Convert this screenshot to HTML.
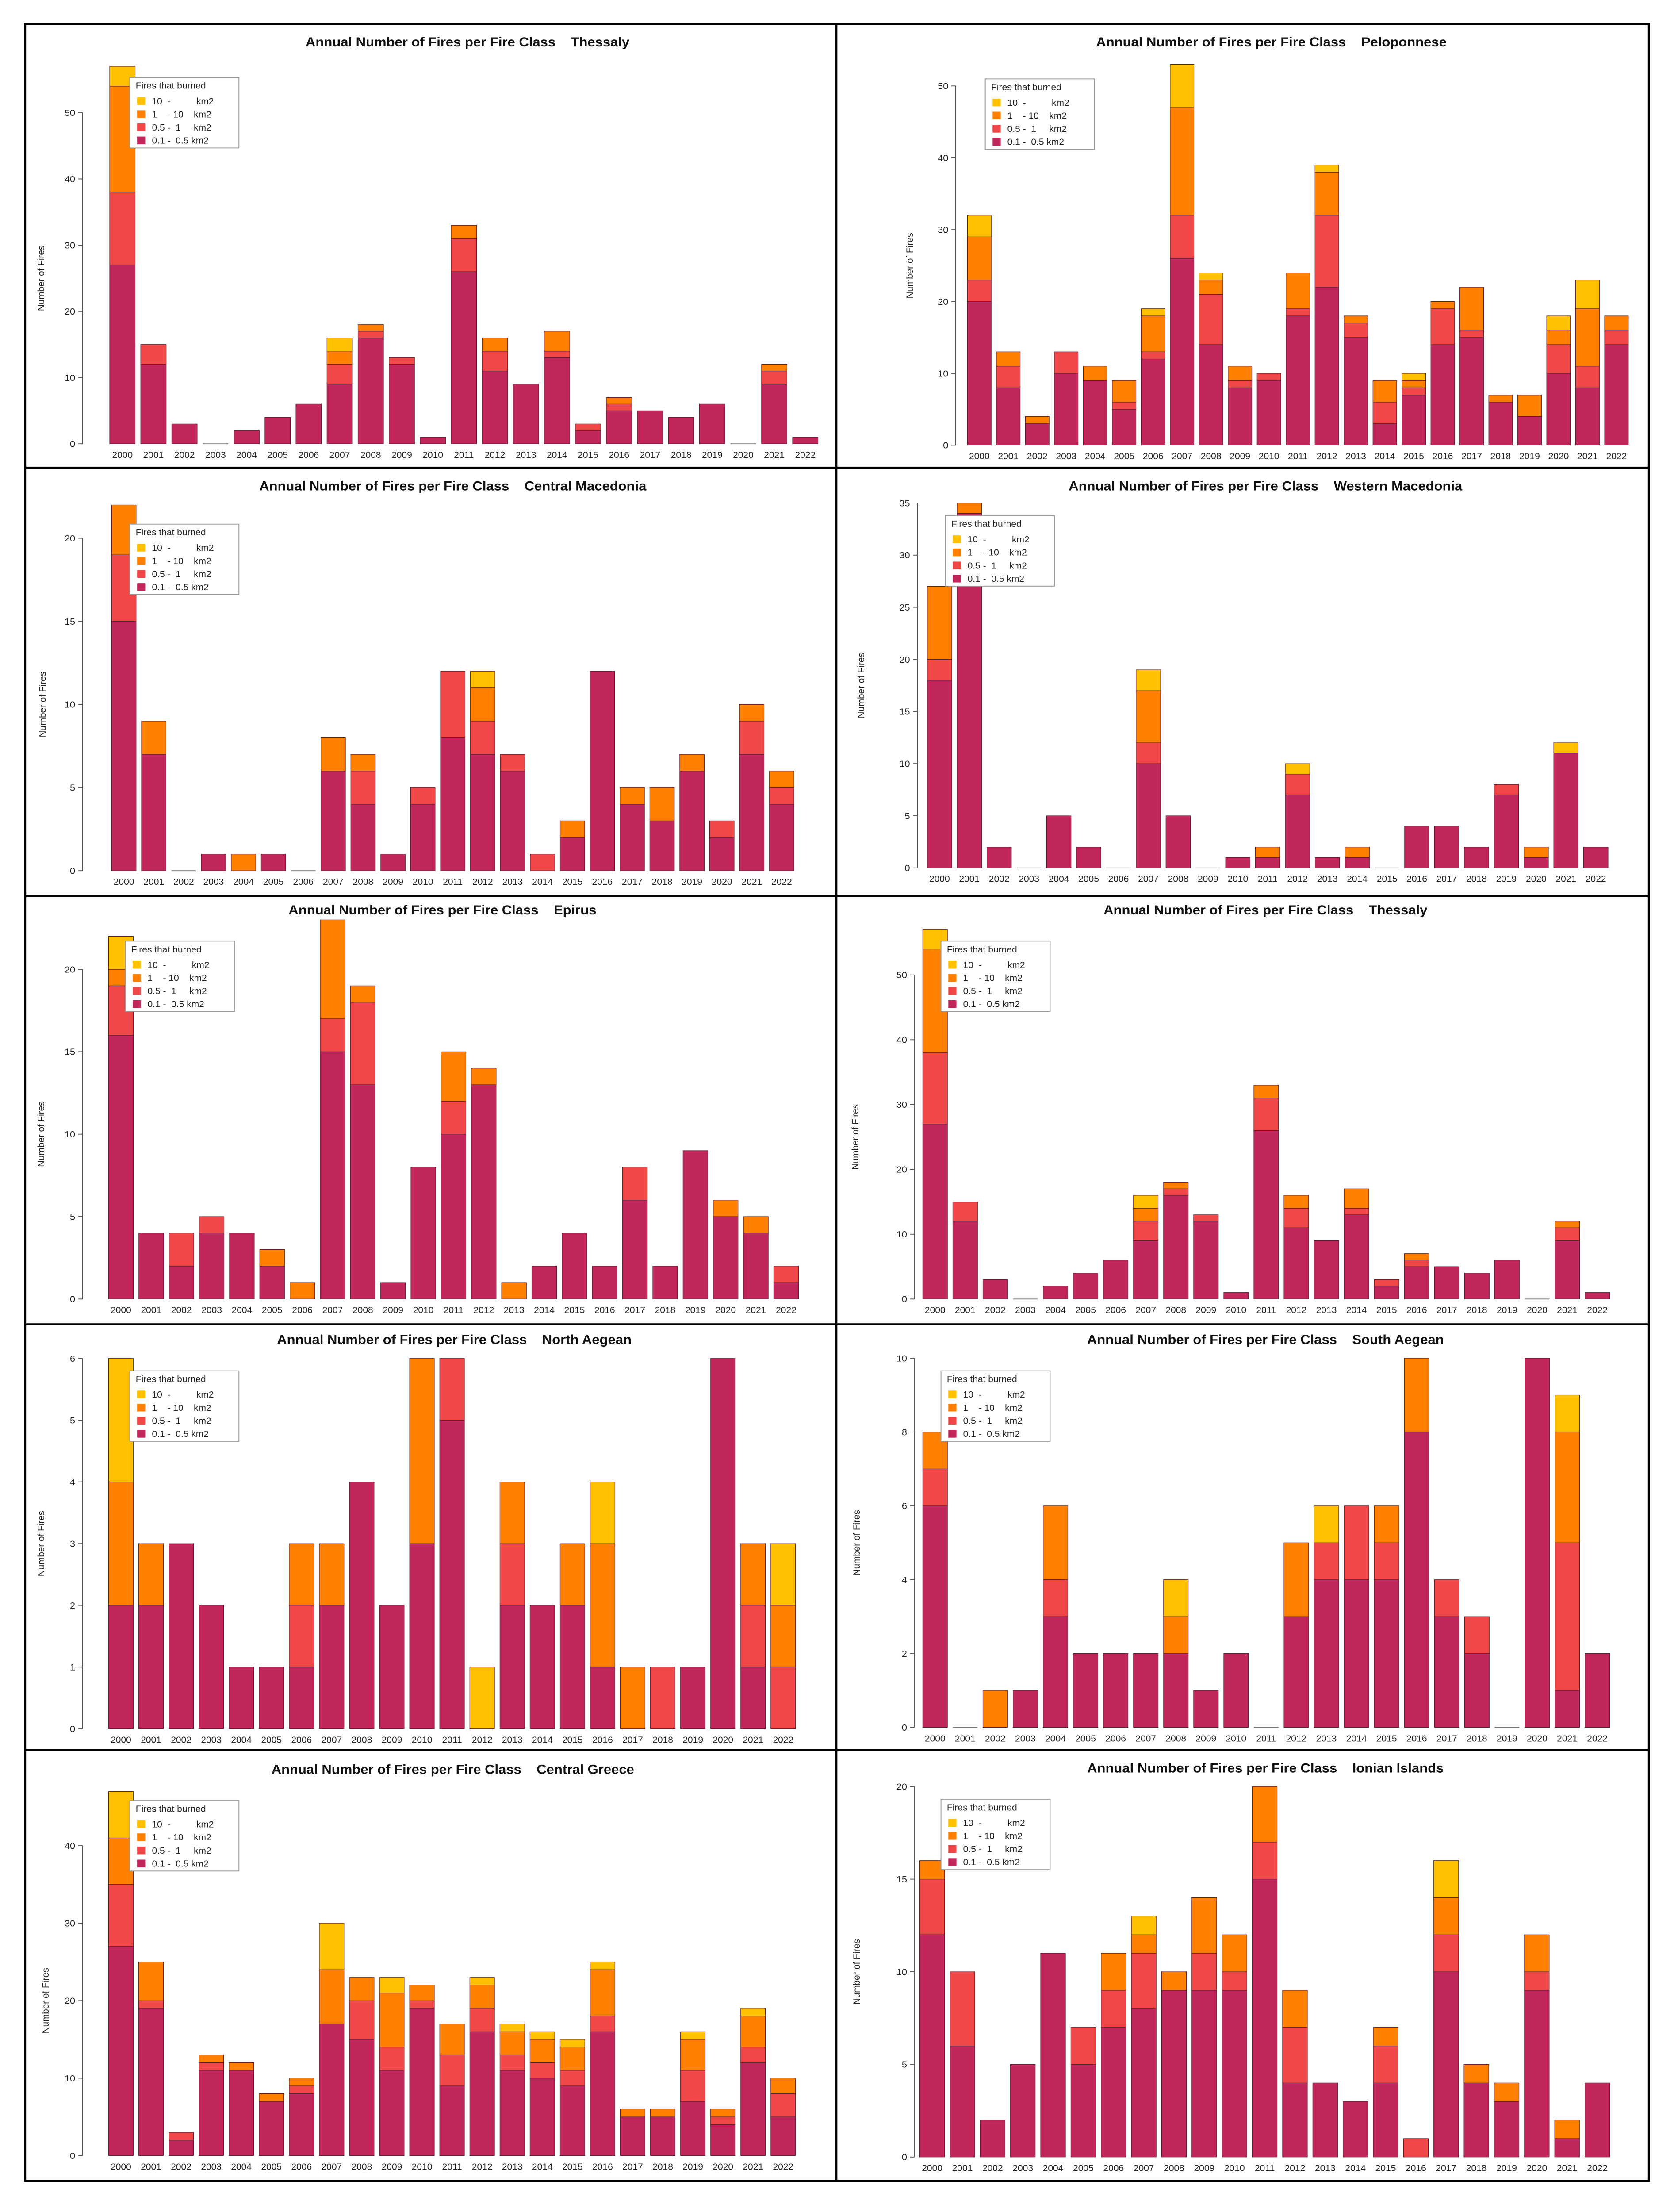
<!DOCTYPE html>
<html><head><meta charset="utf-8">
<style>
html,body{margin:0;padding:0;background:#fff;width:100%;height:100%;overflow:hidden;}
svg{position:fixed;left:0;top:0;width:100vw;height:100vh;display:block;font-family:"Liberation Sans",Arial,sans-serif;overflow:hidden;}
.pre{white-space:pre;}
</style></head>
<body>
<svg id="fig" viewBox="0 0 1135 1570" preserveAspectRatio="none" xmlns="http://www.w3.org/2000/svg">
<rect x="0" y="0" width="1135" height="1570" fill="#fff"/>
<g stroke="#000" stroke-width="1.5" fill="none">
<rect x="17" y="17" width="1101" height="1531"/>
<line x1="567" y1="17" x2="567" y2="1548"/>
<line x1="17" y1="332" x2="1118" y2="332"/>
<line x1="17" y1="636" x2="1118" y2="636"/>
<line x1="17" y1="940" x2="1118" y2="940"/>
<line x1="17" y1="1242" x2="1118" y2="1242"/>
</g>
</svg>
<script>
const years = ["2000","2001","2002","2003","2004","2005","2006","2007","2008","2009","2010","2011","2012","2013","2014","2015","2016","2017","2018","2019","2020","2021","2022"];
const seriesLabels = ["0.1 -  0.5 km2","0.5 -  1     km2","1    - 10    km2","10  -          km2"];
const seriesColors = ["#C1275C","#F04848","#FF7F00","#FFC000"];
const thessalyS1 = [27,12,3,0,2,4,6,9,16,12,1,26,11,9,13,2,5,5,4,6,0,9,1];
const thessalyS2 = [11,3,0,0,0,0,0,3,1,1,0,5,3,0,1,1,1,0,0,0,0,2,0];
const thessalyS3 = [16,0,0,0,0,0,0,2,1,0,0,2,2,0,3,0,1,0,0,0,0,1,0];
const thessalyS4 = [3,0,0,0,0,0,0,2,0,0,0,0,0,0,0,0,0,0,0,0,0,0,0];
const pelopS1 = [20,8,3,10,9,5,12,26,14,8,9,18,22,15,3,7,14,15,6,4,10,8,14];
const pelopS2 = [3,3,0,3,0,1,1,6,7,1,1,1,10,2,3,1,5,1,0,0,4,3,2];
const pelopS3 = [6,2,1,0,2,3,5,15,2,2,0,5,6,1,3,1,1,6,1,3,2,8,2];
const pelopS4 = [3,0,0,0,0,0,1,6,1,0,0,0,1,0,0,1,0,0,0,0,2,4,0];
const cmacS1 = [15,7,0,1,0,1,0,6,4,1,4,8,7,6,0,2,12,4,3,6,2,7,4];
const cmacS2 = [4,0,0,0,0,0,0,0,2,0,1,4,2,1,1,0,0,0,0,0,1,2,1];
const cmacS3 = [3,2,0,0,1,0,0,2,1,0,0,0,2,0,0,1,0,1,2,1,0,1,1];
const cmacS4 = [0,0,0,0,0,0,0,0,0,0,0,0,1,0,0,0,0,0,0,0,0,0,0];
const wmacS1 = [18,34,2,0,5,2,0,10,5,0,1,1,7,1,1,0,4,4,2,7,1,11,2];
const wmacS2 = [2,0,0,0,0,0,0,2,0,0,0,0,2,0,0,0,0,0,0,1,0,0,0];
const wmacS3 = [7,1,0,0,0,0,0,5,0,0,0,1,0,0,1,0,0,0,0,0,1,0,0];
const wmacS4 = [0,0,0,0,0,0,0,2,0,0,0,0,1,0,0,0,0,0,0,0,0,1,0];
const epirusS1 = [16,4,2,4,4,2,0,15,13,1,8,10,13,0,2,4,2,6,2,9,5,4,1];
const epirusS2 = [3,0,2,1,0,0,0,2,5,0,0,2,0,0,0,0,0,2,0,0,0,0,1];
const epirusS3 = [1,0,0,0,0,1,1,6,1,0,0,3,1,1,0,0,0,0,0,0,1,1,0];
const epirusS4 = [2,0,0,0,0,0,0,0,0,0,0,0,0,0,0,0,0,0,0,0,0,0,0];
const naegS1 = [2,2,3,2,1,1,1,2,4,2,3,5,0,2,2,2,1,0,0,1,6,1,0];
const naegS2 = [0,0,0,0,0,0,1,0,0,0,0,1,0,1,0,0,0,0,1,0,0,1,1];
const naegS3 = [2,1,0,0,0,0,1,1,0,0,3,0,0,1,0,1,2,1,0,0,0,1,1];
const naegS4 = [2,0,0,0,0,0,0,0,0,0,0,0,1,0,0,0,1,0,0,0,0,0,1];
const saegS1 = [6,0,0,1,3,2,2,2,2,1,2,0,3,4,4,4,8,3,2,0,10,1,2];
const saegS2 = [1,0,0,0,1,0,0,0,0,0,0,0,0,1,2,1,0,1,1,0,0,4,0];
const saegS3 = [1,0,1,0,2,0,0,0,1,0,0,0,2,0,0,1,2,0,0,0,0,3,0];
const saegS4 = [0,0,0,0,0,0,0,0,1,0,0,0,0,1,0,0,0,0,0,0,0,1,0];
const cgreS1 = [27,19,2,11,11,7,8,17,15,11,19,9,16,11,10,9,16,5,5,7,4,12,5];
const cgreS2 = [8,1,1,1,0,0,1,0,5,3,1,4,3,2,2,2,2,0,0,4,1,2,3];
const cgreS3 = [6,5,0,1,1,1,1,7,3,7,2,4,3,3,3,3,6,1,1,4,1,4,2];
const cgreS4 = [6,0,0,0,0,0,0,6,0,2,0,0,1,1,1,1,1,0,0,1,0,1,0];
const ionS1 = [12,6,2,5,11,5,7,8,9,9,9,15,4,4,3,4,0,10,4,3,9,1,4];
const ionS2 = [3,4,0,0,0,2,2,3,0,2,1,2,3,0,0,2,1,2,0,0,1,0,0];
const ionS3 = [1,0,0,0,0,0,2,1,1,3,2,3,2,0,0,1,0,2,1,1,2,1,0];
const ionS4 = [0,0,0,0,0,0,0,1,0,0,0,0,0,0,0,0,0,2,0,0,0,0,0];

const panels = [
 {name:"Thessaly", slug:"thessaly-1", s:[thessalyS1,thessalyS2,thessalyS3,thessalyS4], tx:317, ty:33, ax:56, c0:83, c1:546, y0:315, max:50, step:10, ppu:4.7, lx:88, ly:55, ylx:30},
 {name:"Peloponnese", slug:"peloponnese", s:[pelopS1,pelopS2,pelopS3,pelopS4], tx:862, ty:33, ax:648, c0:664, c1:1096, y0:316, max:50, step:10, ppu:5.1, lx:668, ly:56, ylx:619},
 {name:"Central Macedonia", slug:"central-macedonia", s:[cmacS1,cmacS2,cmacS3,cmacS4], tx:307, ty:348, ax:56, c0:84, c1:530, y0:618, max:20, step:5, ppu:11.8, lx:88, ly:372, ylx:31},
 {name:"Western Macedonia", slug:"western-macedonia", s:[wmacS1,wmacS2,wmacS3,wmacS4], tx:858, ty:348, ax:622, c0:637, c1:1082, y0:616, max:35, step:5, ppu:7.4, lx:641, ly:366, ylx:586},
 {name:"Epirus", slug:"epirus", s:[epirusS1,epirusS2,epirusS3,epirusS4], tx:300, ty:649, ax:56, c0:82, c1:533, y0:922, max:20, step:5, ppu:11.7, lx:85, ly:668, ylx:30},
 {name:"Thessaly", slug:"thessaly-2", s:[thessalyS1,thessalyS2,thessalyS3,thessalyS4], tx:858, ty:649, ax:620, c0:634, c1:1083, y0:922, max:50, step:10, ppu:4.6, lx:638, ly:668, ylx:582},
 {name:"North Aegean", slug:"north-aegean", s:[naegS1,naegS2,naegS3,naegS4], tx:308, ty:954, ax:56, c0:82, c1:531, y0:1227, max:6, step:1, ppu:43.8, lx:88, ly:973, ylx:30},
 {name:"South Aegean", slug:"south-aegean", s:[saegS1,saegS2,saegS3,saegS4], tx:858, ty:954, ax:620, c0:634, c1:1083, y0:1226, max:10, step:2, ppu:26.2, lx:638, ly:973, ylx:583},
 {name:"Central Greece", slug:"central-greece", s:[cgreS1,cgreS2,cgreS3,cgreS4], tx:307, ty:1259, ax:56, c0:82, c1:531, y0:1530, max:40, step:10, ppu:5.5, lx:88, ly:1278, ylx:33},
 {name:"Ionian Islands", slug:"ionian-islands", s:[ionS1,ionS2,ionS3,ionS4], tx:858, ty:1258, ax:620, c0:632, c1:1083, y0:1531, max:20, step:5, ppu:13.15, lx:638, ly:1277, ylx:583}
];
const NS="http://www.w3.org/2000/svg";
const svg=document.getElementById('fig');
function mk(tag,attrs,parent){const e=document.createElementNS(NS,tag);for(const k in attrs)e.setAttribute(k,attrs[k]);parent.appendChild(e);return e;}
panels.forEach(p=>{
  const g=mk('g',{},svg);
  
  
  const sp=(p.c1-p.c0)/(years.length-1);
  const bw=sp*0.82;
  const xScale=i=>p.c0+i*sp;
  const yScale=v=>p.y0-v*p.ppu;
  const t=mk('text',{x:p.tx,y:p.ty,'text-anchor':'middle','font-size':'9.3','font-weight':'bold',fill:'#111'},g);
  
  
  t.textContent='Annual Number of Fires per Fire Class\u00a0\u00a0\u00a0\u00a0'+p.name;
  const yl=mk('line',{x1:p.ax,y1:yScale(0),x2:p.ax,y2:yScale(p.max),stroke:'#555','stroke-width':'0.6'},g);
  
  
  for(let v=0;v<=p.max+1e-9;v+=p.step){
    mk('line',{x1:p.ax-3,y1:yScale(v),x2:p.ax,y2:yScale(v),stroke:'#555','stroke-width':'0.6'},g);
    const tl=mk('text',{x:p.ax-5,y:yScale(v)+2.3,'text-anchor':'end','font-size':'6.5',fill:'#222'},g);
    
    
    tl.textContent=v;
  }
  const yt=mk('text',{x:p.ylx,y:(p.y0+yScale(p.max))/2,'text-anchor':'middle','font-size':'6.5',fill:'#222',transform:`rotate(-90 ${p.ylx} ${(p.y0+yScale(p.max))/2})`},g);
  
  
  yt.textContent='Number of Fires';
  years.forEach((yr,i)=>{
    let base=0;
    for(let k=0;k<4;k++){
      const v=p.s[k][i];
      if(v>0){
        const r=mk('rect',{x:xScale(i)-bw/2,y:yScale(base+v),width:bw,height:v*p.ppu,fill:seriesColors[k],stroke:'#5a2030','stroke-width':'0.35'},g);
        
        
      }
      base+=v;
    }
    if(base===0){mk('line',{x1:xScale(i)-bw/2,y1:p.y0,x2:xScale(i)+bw/2,y2:p.y0,stroke:'#777','stroke-width':'0.6'},g);}
    const xl=mk('text',{x:xScale(i),y:p.y0+10,'text-anchor':'middle','font-size':'6.3',fill:'#222'},g);
    
    
    xl.textContent=yr;
  });
  const lg=mk('g',{},g);
  
  
  mk('rect',{x:p.lx,y:p.ly,width:74,height:50,fill:'#fff',stroke:'#999','stroke-width':'0.6'},lg);
  const lt=mk('text',{x:p.lx+4,y:p.ly+8,'font-size':'6.3',fill:'#222'},lg);
  
  
  lt.textContent='Fires that burned';
  for(let k=3;k>=0;k--){
    const row=3-k;
    const ry=p.ly+14+row*9.3;
    const e=mk('g',{},lg);
    
    
    mk('rect',{x:p.lx+5,y:ry,width:5.5,height:5.5,fill:seriesColors[k]},e);
    const et=mk('text',{x:p.lx+15,y:ry+5,'font-size':'6.3',fill:'#222','class':'pre'},e);
    et.textContent=seriesLabels[k];
  }
});
</script>
</body></html>
